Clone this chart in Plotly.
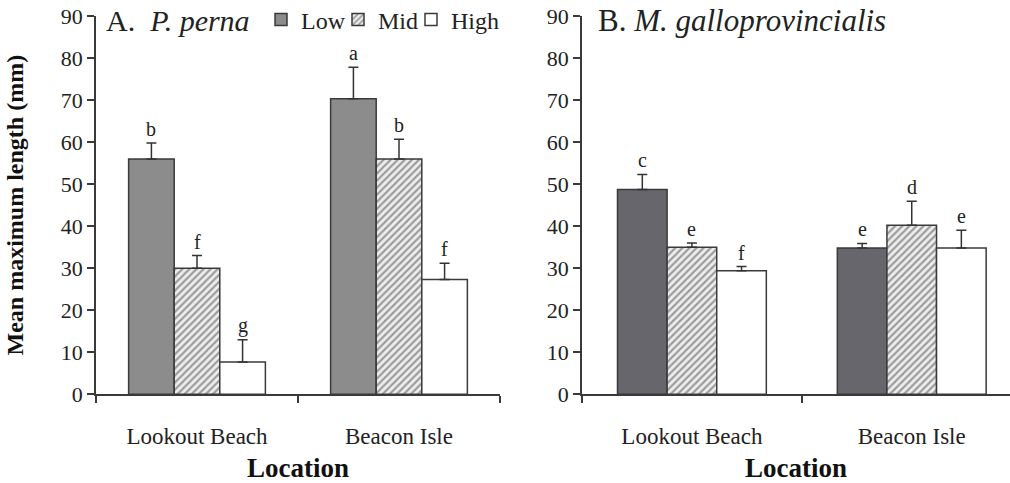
import plotly.graph_objects as go

locations = ["Lookout Beach", "Beacon Isle"]
zones = ["Low", "Mid", "High"]

# Panel A: P. perna
a_means = {"Low": [56, 70.3], "Mid": [30, 56], "High": [7.7, 27.3]}
a_err = {"Low": [3.8, 7.5], "Mid": [3.0, 4.7], "High": [5.3, 3.9]}
a_letters = {"Low": ["b", "a"], "Mid": ["f", "b"], "High": ["g", "f"]}

# Panel B: M. galloprovincialis
b_means = {"Low": [48.7, 34.8], "Mid": [35.0, 40.2], "High": [29.4, 34.8]}
b_err = {"Low": [3.6, 1.1], "Mid": [1.0, 5.7], "High": [1.0, 4.2]}
b_letters = {"Low": ["c", "e"], "Mid": ["e", "d"], "High": ["f", "e"]}

y_ticks = list(range(0, 91, 10))

FONT = "Liberation Serif"
LINE = "#3a3a3a"
W, H = 1010, 483
BARGAP = 0.323
legend_ids = {"Low": "legend", "Mid": "legend2", "High": "legend3"}
legend_x = {"Low": 261, "Mid": 338, "High": 411}

def style(zone, panel):
    if zone == "Low":
        col = "#8c8c8c" if panel == "A" else "#66666c"
        return dict(color=col, line=dict(color=LINE, width=1.5))
    if zone == "Mid":
        return dict(color="#eeeeee", line=dict(color=LINE, width=1.5),
                    pattern=dict(shape="/", fgcolor="#4a4a4a", bgcolor="#eeeeee",
                                 size=5, solidity=0.45))
    return dict(color="#ffffff", line=dict(color=LINE, width=1.5))

fig = go.Figure()
for panel, means, errs, xa, ya in [("A", a_means, a_err, "x", "y"),
                                   ("B", b_means, b_err, "x2", "y2")]:
    for z in zones:
        fig.add_trace(go.Bar(
            x=locations, y=means[z], name=z, xaxis=xa, yaxis=ya,
            marker=style(z, panel), showlegend=(panel == "A"),
            legendgroup=z, legend=legend_ids[z],
            error_y=dict(type="data", array=errs[z], arrayminus=[0, 0],
                         symmetric=False, color="#333333", thickness=1.5, width=5),
        ))

annotations = []
bw = (1 - BARGAP) / 3
for means, errs, letters, xr, yr in [(a_means, a_err, a_letters, "x", "y"),
                                     (b_means, b_err, b_letters, "x2", "y2")]:
    for j, z in enumerate(zones):
        for i in range(len(locations)):
            annotations.append(dict(
                x=i + (j - 1) * bw, y=means[z][i] + errs[z][i], xref=xr, yref=yr,
                text=letters[z][i], showarrow=False, yanchor="bottom", yshift=1,
                font=dict(family=FONT, size=20, color="#222")))

annotations.append(dict(x=104 / W, y=1 - 20 / H, xref="paper", yref="paper",
                        xanchor="left", yanchor="middle", showarrow=False,
                        text="A.  <i>P. perna</i>",
                        font=dict(family=FONT, size=30, color="#222")))
annotations.append(dict(x=596 / W, y=1 - 20 / H, xref="paper", yref="paper",
                        xanchor="left", yanchor="middle", showarrow=False,
                        text="B. <i>M. galloprovincialis</i>",
                        font=dict(family=FONT, size=31, color="#222")))

y_dom = [(H - 394.3) / H, (H - 16) / H]
xcommon = dict(type="category", tickson="boundaries", ticks="outside", ticklen=7,
               tickwidth=1.5, tickcolor=LINE, showline=True, linecolor=LINE,
               linewidth=1.5, showgrid=False, zeroline=False, automargin=False,
               tickfont=dict(family=FONT, size=23, color="#222"),
               ticklabelstandoff=20,
               title=dict(text="<b>Location</b>", standoff=12,
                          font=dict(family=FONT, size=27, color="#111")))
ycommon = dict(range=[0, 90], tickvals=y_ticks, ticks="outside", ticklen=7,
               tickwidth=1.5, tickcolor=LINE, showline=True, linecolor=LINE,
               linewidth=1.5, showgrid=False, zeroline=False, automargin=False,
               tickfont=dict(family=FONT, size=22, color="#222"), domain=y_dom)

def leg(z):
    return dict(orientation="h", x=legend_x[z] / W, y=1 - 20 / H, xanchor="left",
                yanchor="middle", bgcolor="rgba(0,0,0,0)", itemwidth=30,
                font=dict(family=FONT, size=24, color="#222"))

fig.update_layout(
    width=W, height=H, margin=dict(l=0, r=0, t=0, b=0, autoexpand=False),
    paper_bgcolor="white", plot_bgcolor="white",
    barmode="group", bargap=BARGAP, bargroupgap=0,
    font=dict(family=FONT, color="#222"),
    xaxis=dict(**xcommon, domain=[96 / W, 500 / W], range=[-0.5, 1.5], anchor="y"),
    xaxis2=dict(**xcommon, domain=[582 / W, 1.0], range=[-0.5, 1.447], anchor="y2"),
    yaxis=dict(**ycommon, anchor="x",
               title=dict(text="<b>Mean maximum length (mm)</b>", standoff=30,
                          font=dict(family=FONT, size=24, color="#111"))),
    yaxis2=dict(**ycommon, anchor="x2"),
    legend=leg("Low"), legend2=leg("Mid"), legend3=leg("High"),
    annotations=annotations,
)

fig.write_html("out.html", config={"displayModeBar": False},
               post_script="document.body.style.margin='0';document.body.style.overflow='hidden';")
